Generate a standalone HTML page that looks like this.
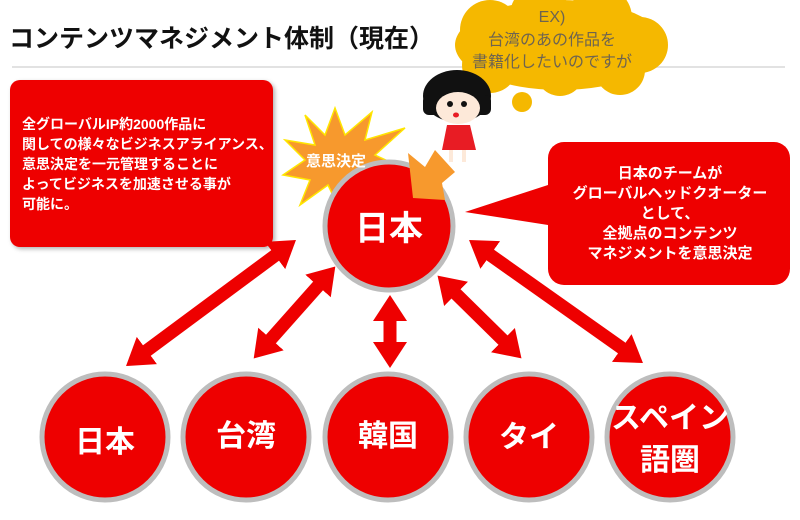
<!DOCTYPE html>
<html><head><meta charset="utf-8"><style>
html,body{margin:0;padding:0;background:#fff;}
svg{display:block;font-family:"Liberation Sans","Noto Sans CJK JP",sans-serif;}
</style></head><body>
<svg width="800" height="520" viewBox="0 0 800 520" xmlns="http://www.w3.org/2000/svg">
<defs>
<marker id="ah" viewBox="0 -17 26 34" refX="4" refY="0" markerWidth="26" markerHeight="34" markerUnits="userSpaceOnUse" orient="auto-start-reverse">
<path d="M0,-17 L26,0 L0,17 z" fill="#ee0000"/>
</marker>
<filter id="sh" x="-10%" y="-10%" width="120%" height="120%"><feDropShadow dx="2" dy="2" stdDeviation="2" flood-color="#000" flood-opacity="0.3"/></filter>
</defs>
<text x="9" y="47" font-size="25" font-weight="bold" fill="#111">コンテンツマネジメント体制（現在）</text>
<line x1="12" y1="67" x2="785" y2="67" stroke="#d8d8d8" stroke-width="1.5"/>

<!-- cloud -->
<g fill="#f5b800">
<ellipse cx="560" cy="45" rx="105" ry="45"/>
<circle cx="490" cy="30" r="30"/><circle cx="540" cy="15" r="30"/><circle cx="600" cy="18" r="32"/>
<circle cx="640" cy="45" r="28"/><circle cx="490" cy="65" r="28"/><circle cx="560" cy="72" r="24"/><circle cx="620" cy="70" r="25"/>
<ellipse cx="522" cy="102" rx="10" ry="10"/>
</g>
<g font-size="16" fill="#6e6450" text-anchor="middle">
<text x="552" y="22">EX)</text>
<text x="552" y="45">台湾のあの作品を</text>
<text x="552" y="67">書籍化したいのですが</text>
</g>

<!-- character -->
<g>
<ellipse cx="457" cy="96" rx="34" ry="26" fill="#111"/>
<rect x="423" y="95" width="68" height="20" rx="6" fill="#111"/>
<ellipse cx="458" cy="108" rx="22" ry="16" fill="#fde9d9"/>
<path d="M447 125 L470 125 L476 150 L442 150 z" fill="#e81c24"/>
<rect x="449" y="150" width="4" height="12" fill="#fde9d9"/><rect x="462" y="150" width="4" height="12" fill="#fde9d9"/>
<circle cx="450" cy="104" r="3" fill="#111"/><circle cx="464" cy="104" r="3" fill="#111"/>
<ellipse cx="456" cy="115" rx="3" ry="2.5" fill="#e81c24"/>
</g>

<!-- left box -->
<rect x="10" y="80" width="263" height="167" rx="10" fill="#ee0000" filter="url(#sh)"/>
<g font-size="14" font-weight="bold" fill="#fff">
<text x="22" y="129">全グローバルIP約2000作品に</text>
<text x="22" y="149">関しての様々なビジネスアライアンス、</text>
<text x="22" y="169">意思決定を一元管理することに</text>
<text x="22" y="189">よってビジネスを加速させる事が</text>
<text x="22" y="209">可能に。</text>
</g>

<!-- right box -->
<path d="M548 185 L465 212 L548 225 z" fill="#ee0000"/>
<rect x="548" y="142" width="242" height="143" rx="16" fill="#ee0000"/>
<g font-size="15" font-weight="bold" fill="#fff" text-anchor="middle">
<text x="670" y="178">日本のチームが</text>
<text x="670" y="198">グローバルヘッドクオーター</text>
<text x="670" y="218">として、</text>
<text x="670" y="238">全拠点のコンテンツ</text>
<text x="670" y="258">マネジメントを意思決定</text>
</g>

<!-- arrows -->
<g stroke="#ee0000" stroke-width="13" fill="none" marker-start="url(#ah)" marker-end="url(#ah)">
<line x1="278.3" y1="253.1" x2="143.7" y2="352.9"/>
<line x1="320.7" y1="283" x2="268.3" y2="342"/>
<line x1="390" y1="317" x2="390" y2="346"/>
<line x1="453.2" y1="291.1" x2="505.8" y2="342.9"/>
<line x1="487" y1="252.7" x2="625" y2="350.3"/>
</g>

<!-- starburst -->
<polygon points="335,108 345,135 372,112 365,140 405,128 375,155 407,170 372,175 385,205 352,185 340,210 328,185 300,205 310,180 283,175 305,160 285,140 315,145 305,115 325,135"
 fill="#f7992d" stroke="#ffe600" stroke-width="1.5"/>

<!-- center circle -->
<circle cx="389" cy="226" r="64" fill="#ee0000" stroke="#bdbdbd" stroke-width="5"/>
<polygon points="408,153 425,167 435,150 455,172 442,183 445,200 413,198" fill="#f7992d"/>
<text x="336" y="166" font-size="15" font-weight="bold" fill="#fff" text-anchor="middle">意思決定</text>
<text x="389" y="240" font-size="34" font-weight="bold" fill="#fff" text-anchor="middle">日本</text>

<!-- bottom circles -->
<g fill="#ee0000" stroke="#bdbdbd" stroke-width="5">
<circle cx="105" cy="437" r="63"/><circle cx="246" cy="437" r="63"/><circle cx="388" cy="437" r="63"/>
<circle cx="529" cy="437" r="63"/><circle cx="670" cy="437" r="63"/>
</g>
<g font-size="30" font-weight="bold" fill="#fff" text-anchor="middle">
<text x="105" y="452">日本</text>
<text x="246" y="446">台湾</text>
<text x="388" y="446">韓国</text>
<text x="529" y="447">タイ</text>
<text x="670" y="428">スペイン</text>
<text x="670" y="470">語圏</text>
</g>
</svg>
</body></html>
